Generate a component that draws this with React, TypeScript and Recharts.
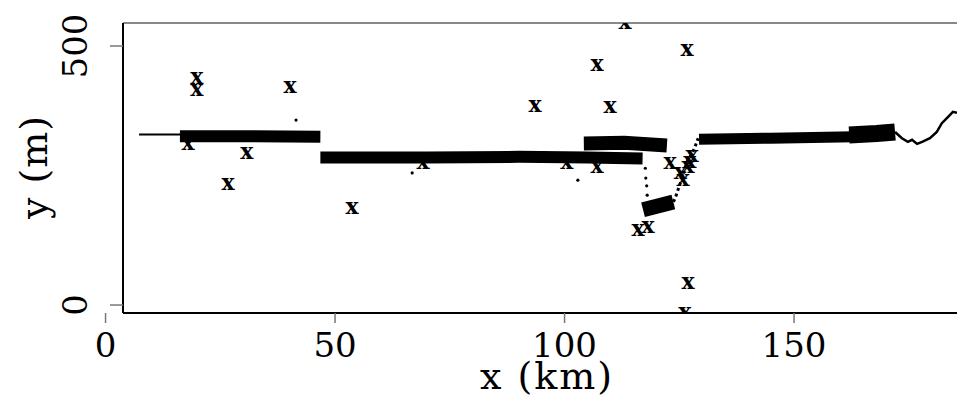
import React from 'react';
import { ComposedChart, Line, Scatter, XAxis, YAxis, ReferenceLine } from 'recharts';

// ---- data (x in km, y in m) ----

const X_TICKS = [0, 50, 100, 150];
const Y_TICKS = [0, 500];
const X_DOMAIN: [number, number] = [3.8, 185.5];
const Y_DOMAIN: [number, number] = [-15.4, 544.4];

// thin leading trace
const leadTrace = [
  { x: 7.3, y: 329 },
  { x: 16.3, y: 329 },
];

// dense clusters of soundings, drawn as thick strokes
const band1 = [
  { x: 16.2, y: 326 },
  { x: 30, y: 326 },
  { x: 46.8, y: 325 },
];
const band2 = [
  { x: 46.8, y: 285 },
  { x: 70, y: 285 },
  { x: 90, y: 286 },
  { x: 105, y: 285 },
  { x: 117, y: 283 },
];
const bandUpper = [
  { x: 104.2, y: 312 },
  { x: 113, y: 313 },
  { x: 122.3, y: 308 },
];
const blob = [
  { x: 117.1, y: 184 },
  { x: 123.7, y: 199 },
];
const rise = [
  { x: 123.7, y: 199 },
  { x: 124.1, y: 206 },
  { x: 124.7, y: 222 },
  { x: 125.6, y: 245 },
  { x: 126.2, y: 264 },
  { x: 126.9, y: 280 },
  { x: 127.8, y: 293 },
  { x: 128.4, y: 305 },
  { x: 129.1, y: 322 },
];
const band3 = [
  { x: 129.3, y: 320 },
  { x: 145, y: 322 },
  { x: 163, y: 325 },
];
const band3End = [
  { x: 162, y: 328 },
  { x: 168, y: 331 },
  { x: 172, y: 334 },
];
const tail = [
  { x: 172.0, y: 334 },
  { x: 173.5, y: 322 },
  { x: 174.8, y: 315 },
  { x: 175.7, y: 319 },
  { x: 176.8, y: 311 },
  { x: 177.9, y: 315 },
  { x: 179.6, y: 322 },
  { x: 181.1, y: 334 },
  { x: 182.2, y: 351 },
  { x: 183.3, y: 361 },
  { x: 184.6, y: 373 },
  { x: 185.5, y: 371 },
];

// outliers marked with "x"
const outliers = [
  { x: 19.9, y: 438 },
  { x: 19.9, y: 415 },
  { x: 40.2, y: 420 },
  { x: 18.0, y: 311 },
  { x: 30.8, y: 293 },
  { x: 26.7, y: 233 },
  { x: 53.7, y: 187 },
  { x: 69.2, y: 274 },
  { x: 93.6, y: 384 },
  { x: 100.5, y: 274 },
  { x: 107.1, y: 463 },
  { x: 107.1, y: 266 },
  { x: 109.9, y: 382 },
  { x: 113.2, y: 544.4 },
  { x: 116.0, y: 145 },
  { x: 118.2, y: 149 },
  { x: 123.0, y: 274 },
  { x: 125.2, y: 255 },
  { x: 125.8, y: 241 },
  { x: 126.9, y: 266 },
  { x: 127.3, y: 276 },
  { x: 127.8, y: 286 },
  { x: 126.7, y: 492 },
  { x: 126.9, y: 42.5 },
  { x: 126.2, y: -15.4 },
];

// isolated single soundings
const dots = [
  { x: 41.5, y: 357 },
  { x: 66.8, y: 255 },
  { x: 102.9, y: 241 },
  { x: 117.6, y: 264 },
  { x: 117.7, y: 245 },
  { x: 117.9, y: 230 },
  { x: 118.0, y: 212 },
];

const FONT = 'DejaVu Serif';

function XMark(props: any) {
  const { cx, cy } = props;
  return (
    <text x={cx} y={cy + 5.6} textAnchor="middle" fontFamily={FONT} fontWeight="bold" fontSize={22} fill="#000">
      x
    </text>
  );
}

function Dot(props: any) {
  return <circle cx={props.cx} cy={props.cy} r={1.6} fill="#000" />;
}

function XTick(props: any) {
  return (
    <text x={props.x} y={357} textAnchor="middle" fontFamily={FONT} fontSize={34} fill="#000">
      {props.payload.value}
    </text>
  );
}

function YTick(props: any) {
  const bx = 87;
  return (
    <text
      x={bx}
      y={props.y}
      transform={`rotate(-90 ${bx} ${props.y})`}
      textAnchor="middle"
      fontFamily={FONT}
      fontSize={34}
      fill="#000"
    >
      {props.payload.value}
    </text>
  );
}

const thick = (data: { x: number; y: number }[], w: number, key: string, dash?: string) => (
  <Line
    key={key}
    name={key}
    data={data}
    dataKey="y"
    type="linear"
    stroke="#000"
    strokeWidth={w}
    strokeDasharray={dash}
    dot={false}
    activeDot={false}
    isAnimationActive={false}
  />
);

export default function App() {
  return (
    <div style={{ position: 'absolute', left: 0, top: 0, width: 957, height: 400, background: '#fff' }}>
      <ComposedChart width={957} height={400} margin={{ top: 23, right: 0, bottom: 27, left: 63 }}>
        <XAxis
          type="number"
          dataKey="x"
          domain={X_DOMAIN}
          allowDataOverflow
          ticks={X_TICKS}
          interval={0}
          height={60}
          tickSize={10}
          axisLine={{ stroke: '#000', strokeWidth: 2 }}
          tickLine={{ stroke: '#777', strokeWidth: 1.5 }}
          tick={XTick}
          label={{
            content: () => (
              <text
                x={547}
                y={389}
                textAnchor="middle"
                fontFamily={FONT}
                fontSize={38}
                letterSpacing={2}
                fill="#000"
              >
                x (km)
              </text>
            ),
          }}
        />
        <YAxis
          type="number"
          dataKey="y"
          domain={Y_DOMAIN}
          allowDataOverflow
          ticks={Y_TICKS}
          interval={0}
          width={60}
          tickSize={13}
          axisLine={{ stroke: '#000', strokeWidth: 2 }}
          tickLine={{ stroke: '#777', strokeWidth: 1.5 }}
          tick={YTick}
          label={{
            content: () => (
              <text
                x={47}
                y={167}
                transform="rotate(-90 47 167)"
                textAnchor="middle"
                fontFamily={FONT}
                fontSize={38}
                letterSpacing={1}
                fill="#000"
              >
                y (m)
              </text>
            ),
          }}
        />
        <ReferenceLine y={Y_DOMAIN[1]} stroke="#888" strokeWidth={2} />

        {thick(leadTrace, 2, 'lead')}
        {thick(band1, 12, 'band1')}
        {thick(band2, 12, 'band2')}
        {thick(bandUpper, 14, 'bandUpper')}
        {thick(blob, 15, 'blob')}
        {thick(rise, 3, 'rise', '3 3')}
        {thick(band3, 11, 'band3')}
        {thick(band3End, 17, 'band3End')}
        {thick(tail, 2.5, 'tail')}

        <Scatter data={dots} dataKey="y" shape={Dot} isAnimationActive={false} />
        <Scatter data={outliers} dataKey="y" shape={XMark} isAnimationActive={false} />
      </ComposedChart>
    </div>
  );
}
